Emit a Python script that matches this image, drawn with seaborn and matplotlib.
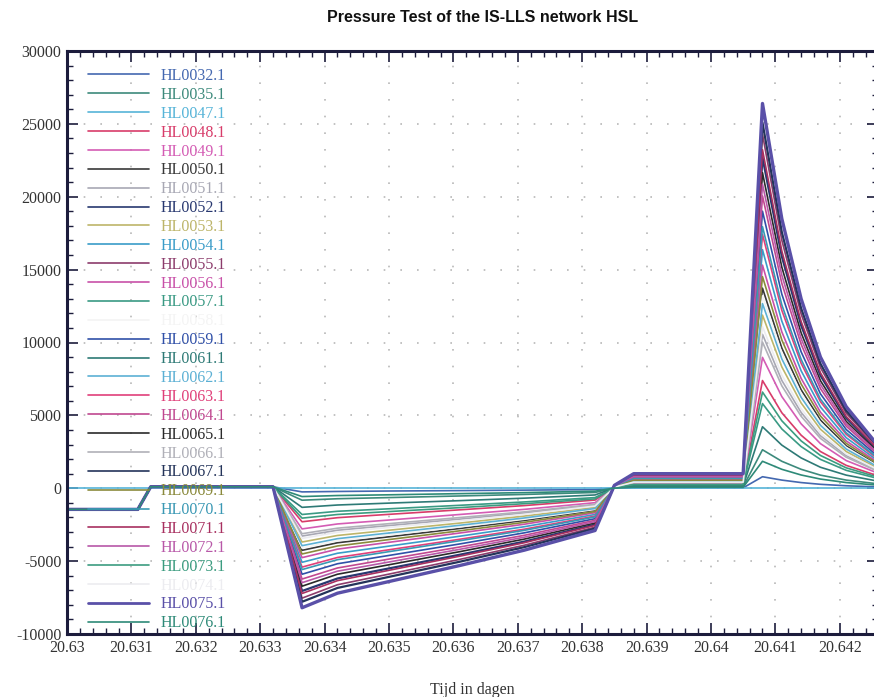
import matplotlib
matplotlib.use("Agg")
import matplotlib.pyplot as plt
from matplotlib.lines import Line2D
from matplotlib.ticker import MultipleLocator, FixedLocator
import seaborn as sns
import pandas as pd

# ---------------- data ----------------
names = ["HL0032.1", "HL0035.1", "HL0047.1", "HL0048.1", "HL0049.1", "HL0050.1",
         "HL0051.1", "HL0052.1", "HL0053.1", "HL0054.1", "HL0055.1", "HL0056.1",
         "HL0057.1", "HL0058.1", "HL0059.1", "HL0061.1", "HL0062.1", "HL0063.1",
         "HL0064.1", "HL0065.1", "HL0066.1", "HL0067.1", "HL0069.1", "HL0070.1",
         "HL0071.1", "HL0072.1", "HL0073.1", "HL0074.1", "HL0075.1", "HL0076.1"]

colors = ["#4468b0", "#3d8a7c", "#56b4d8", "#d83c6a", "#d45cb4", "#383838",
          "#a8a8b4", "#283870", "#bdb56a", "#3a9cc8", "#8c3c6c", "#c850a8",
          "#3a9a84", "#f4f4f4", "#3050a8", "#2e7a76", "#5cb0d4", "#e0407a",
          "#c04890", "#2a2a2a", "#b0b0b8", "#24345a", "#8a8a3c", "#3a98b4",
          "#a83060", "#b858a8", "#3c9c80", "#ececf0", "#5a50a8", "#2e8a78"]

# time in days
t_days = [20.6300, 20.6311, 20.6313, 20.6332,
          20.63365, 20.6342, 20.6350, 20.6361, 20.6371, 20.6382, 20.6385, 20.6388,
          20.6405, 20.6408, 20.6411, 20.6414, 20.6417, 20.6421, 20.6426]

# common start of the record (first four samples)
start_common = [-1450, -1450, 100, 100]
start_zero = [0, 0, 0, 0]

# remaining 15 samples per series
HL0032 = [-250, -220, -190, -160, -130, -90, 10, 30, 30, 790, 560, 390, 270, 170, 90]
HL0035 = [-820, -720, -640, -530, -425, -290, 20, 100, 100, 2640, 1850, 1300, 900, 560, 300]
HL0047 = [0, 0, 0, 0, 0, 0, 0, 0, 0, 0, 0, 0, 0, 0, 0]
HL0048 = [-2300, -2020, -1790, -1480, -1190, -810, 60, 280, 280, 7390, 5180, 3640, 2520, 1570, 840]
HL0049 = [-2790, -2450, -2180, -1800, -1450, -990, 70, 340, 340, 8980, 6290, 4420, 3060, 1900, 1020]
HL0050 = [-4260, -3740, -3330, -2760, -2210, -1510, 100, 520, 520, 13730, 9620, 6760, 4680, 2910, 1560]
HL0051 = [-3280, -2880, -2560, -2120, -1700, -1160, 80, 400, 400, 10560, 7400, 5200, 3600, 2240, 1200]
HL0052 = [-7050, -6190, -5500, -4560, -3660, -2490, 170, 860, 860, 22700, 15910, 11180, 7740, 4820, 2580]
HL0053 = [-3690, -3240, -2880, -2390, -1910, -1310, 90, 450, 450, 11880, 8330, 5850, 4050, 2520, 1350]
HL0054 = [-5080, -4460, -3970, -3290, -2640, -1800, 120, 620, 620, 16370, 11470, 8060, 5580, 3470, 1860]
HL0055 = [-7540, -6620, -5890, -4880, -3910, -2670, 180, 920, 920, 24290, 17020, 11960, 8280, 5150, 2760]
HL0056 = [-4760, -4180, -3710, -3070, -2470, -1680, 120, 580, 580, 15310, 10730, 7540, 5220, 3250, 1740]
HL0057 = [-1800, -1580, -1410, -1170, -940, -640, 40, 220, 220, 5810, 4070, 2860, 1980, 1230, 660]
HL0058 = [-4100, -3600, -3200, -2650, -2125, -1450, 100, 500, 500, 13200, 9250, 6500, 4500, 2800, 1500]
HL0059 = [-5900, -5180, -4610, -3820, -3060, -2090, 140, 720, 720, 19010, 13320, 9360, 6480, 4030, 2160]
HL0061 = [-1310, -1150, -1020, -850, -680, -460, 30, 160, 160, 4220, 2960, 2080, 1440, 900, 480]
HL0062 = [-3940, -3460, -3070, -2540, -2040, -1390, 100, 480, 480, 12670, 8880, 6240, 4320, 2690, 1440]
HL0063 = [-5410, -4750, -4220, -3500, -2810, -1910, 130, 660, 660, 17420, 12210, 8580, 5940, 3700, 1980]
HL0064 = [-6230, -5470, -4860, -4030, -3230, -2200, 150, 760, 760, 20060, 14060, 9880, 6840, 4260, 2280]
HL0065 = [-6720, -5900, -5250, -4350, -3490, -2380, 160, 820, 820, 21650, 15170, 10660, 7380, 4590, 2460]
HL0066 = [-3120, -2740, -2430, -2010, -1620, -1100, 80, 380, 380, 10030, 7030, 4940, 3420, 2130, 1140]
HL0067 = [-7790, -6840, -6080, -5040, -4040, -2760, 190, 950, 950, 25080, 17580, 12350, 8550, 5320, 2850]
HL0069 = [-4510, -3960, -3520, -2920, -2340, -1600, 110, 550, 550, 14520, 10180, 7150, 4950, 3080, 1650]
HL0070 = [-5580, -4900, -4350, -3600, -2890, -1970, 140, 680, 680, 17950, 12580, 8840, 6120, 3810, 2040]
HL0071 = [-7220, -6340, -5630, -4660, -3740, -2550, 180, 880, 880, 23230, 16280, 11440, 7920, 4930, 2640]
HL0072 = [-6480, -5690, -5060, -4190, -3360, -2290, 160, 790, 790, 20860, 14620, 10270, 7110, 4420, 2370]
HL0073 = [-2050, -1800, -1600, -1330, -1060, -730, 50, 250, 250, 6600, 4630, 3250, 2250, 1400, 750]
HL0074 = [-3440, -3020, -2690, -2230, -1790, -1220, 80, 420, 420, 11090, 7770, 5460, 3780, 2350, 1260]
HL0075 = [-8200, -7200, -6400, -5300, -4250, -2900, 200, 1000, 1000, 26400, 18500, 13000, 9000, 5600, 2900]
HL0076 = [-570, -500, -450, -370, -300, -200, 10, 70, 70, 1850, 1300, 910, 630, 390, 210]

series_tail = [HL0032, HL0035, HL0047, HL0048, HL0049, HL0050, HL0051, HL0052,
               HL0053, HL0054, HL0055, HL0056, HL0057, HL0058, HL0059, HL0061,
               HL0062, HL0063, HL0064, HL0065, HL0066, HL0067, HL0069, HL0070,
               HL0071, HL0072, HL0073, HL0074, HL0075, HL0076]

x_ticks = [20.63, 20.631, 20.632, 20.633, 20.634, 20.635, 20.636, 20.637,
           20.638, 20.639, 20.64, 20.641, 20.642]
x_tick_labels = ["20.63", "20.631", "20.632", "20.633", "20.634", "20.635", "20.636",
                 "20.637", "20.638", "20.639", "20.64", "20.641", "20.642"]
y_ticks = [-10000, -5000, 0, 5000, 10000, 15000, 20000, 25000, 30000]
y_tick_labels = ["-10000", "-5000", "0", "5000", "10000", "15000", "20000", "25000", "30000"]

title = "Pressure Test of the IS-LLS network HSL"
x_label = "Tijd in dagen"

# ---------------- long table ----------------
rows = []
for name, tail in zip(names, series_tail):
    start = start_zero if name == "HL0047.1" else start_common
    for t, p in zip(t_days, start + tail):
        rows.append({"t": t, "p": p, "name": name})
df = pd.DataFrame(rows)

# ---------------- style ----------------
sns.set_style("ticks")
plt.rcParams["font.family"] = ["Liberation Serif", "DejaVu Serif"]

fig = plt.figure(figsize=(8.74, 6.97), dpi=100)
ax = fig.add_axes([67 / 874, 1 - 634 / 697, (878.4 - 67) / 874, (634 - 51) / 697])

palette = dict(zip(names, colors))
sns.lineplot(data=df, x="t", y="p", hue="name", hue_order=names, palette=palette,
             estimator=None, sort=False, legend=False, linewidth=1.2, ax=ax)
for ln, name in zip(ax.lines, names):
    if name == "HL0075.1":
        ln.set_linewidth(2.4)
    if name in ("HL0067.1", "HL0052.1"):
        ln.set_linewidth(1.6)

ax.set_xlim(20.63, 20.6426)
ax.set_ylim(-10000, 30000)
ax.xaxis.set_major_locator(FixedLocator(x_ticks))
ax.set_xticklabels(x_tick_labels)
ax.xaxis.set_minor_locator(MultipleLocator(0.0002))
ax.yaxis.set_major_locator(FixedLocator(y_ticks))
ax.set_yticklabels(y_tick_labels)
ax.yaxis.set_minor_locator(MultipleLocator(1000))

spine_c = "#1c1c3c"
for s in ax.spines.values():
    s.set_color(spine_c)
    s.set_linewidth(2.2)
ax.tick_params(axis="both", which="major", direction="in", length=8, width=1.2,
               color=spine_c, labelsize=11.5, labelcolor="#333333", pad=4,
               top=True, right=True)
ax.tick_params(axis="both", which="minor", direction="in", length=4, width=1.0,
               color=spine_c, top=True, right=True)

ax.grid(True, which="major", color="#b8b8b8", linestyle=(0, (1, 9)), linewidth=1.2)
ax.set_axisbelow(True)

ax.set_xlabel(x_label, fontsize=11.5, color="#333333", labelpad=19)
ax.set_ylabel("")
fig.text(483 / 874, 1 - 18 / 697, title, ha="center", va="center",
         fontsize=11.5, fontweight="bold", family=["Liberation Sans", "DejaVu Sans"],
         color="#111111")

handles = [Line2D([0], [0], color=c, linewidth=(2.0 if n == "HL0075.1" else 1.2))
           for n, c in zip(names, colors)]
leg = ax.legend(handles, names, loc="upper left",
                bbox_to_anchor=(88 / 874, 1 - 68 / 697), bbox_transform=fig.transFigure,
                frameon=False, fontsize=11.5, handlelength=3.8, handletextpad=0.75,
                labelspacing=0.18, borderpad=0, borderaxespad=0, labelcolor="linecolor")

fig.savefig("out.png", dpi=100)
